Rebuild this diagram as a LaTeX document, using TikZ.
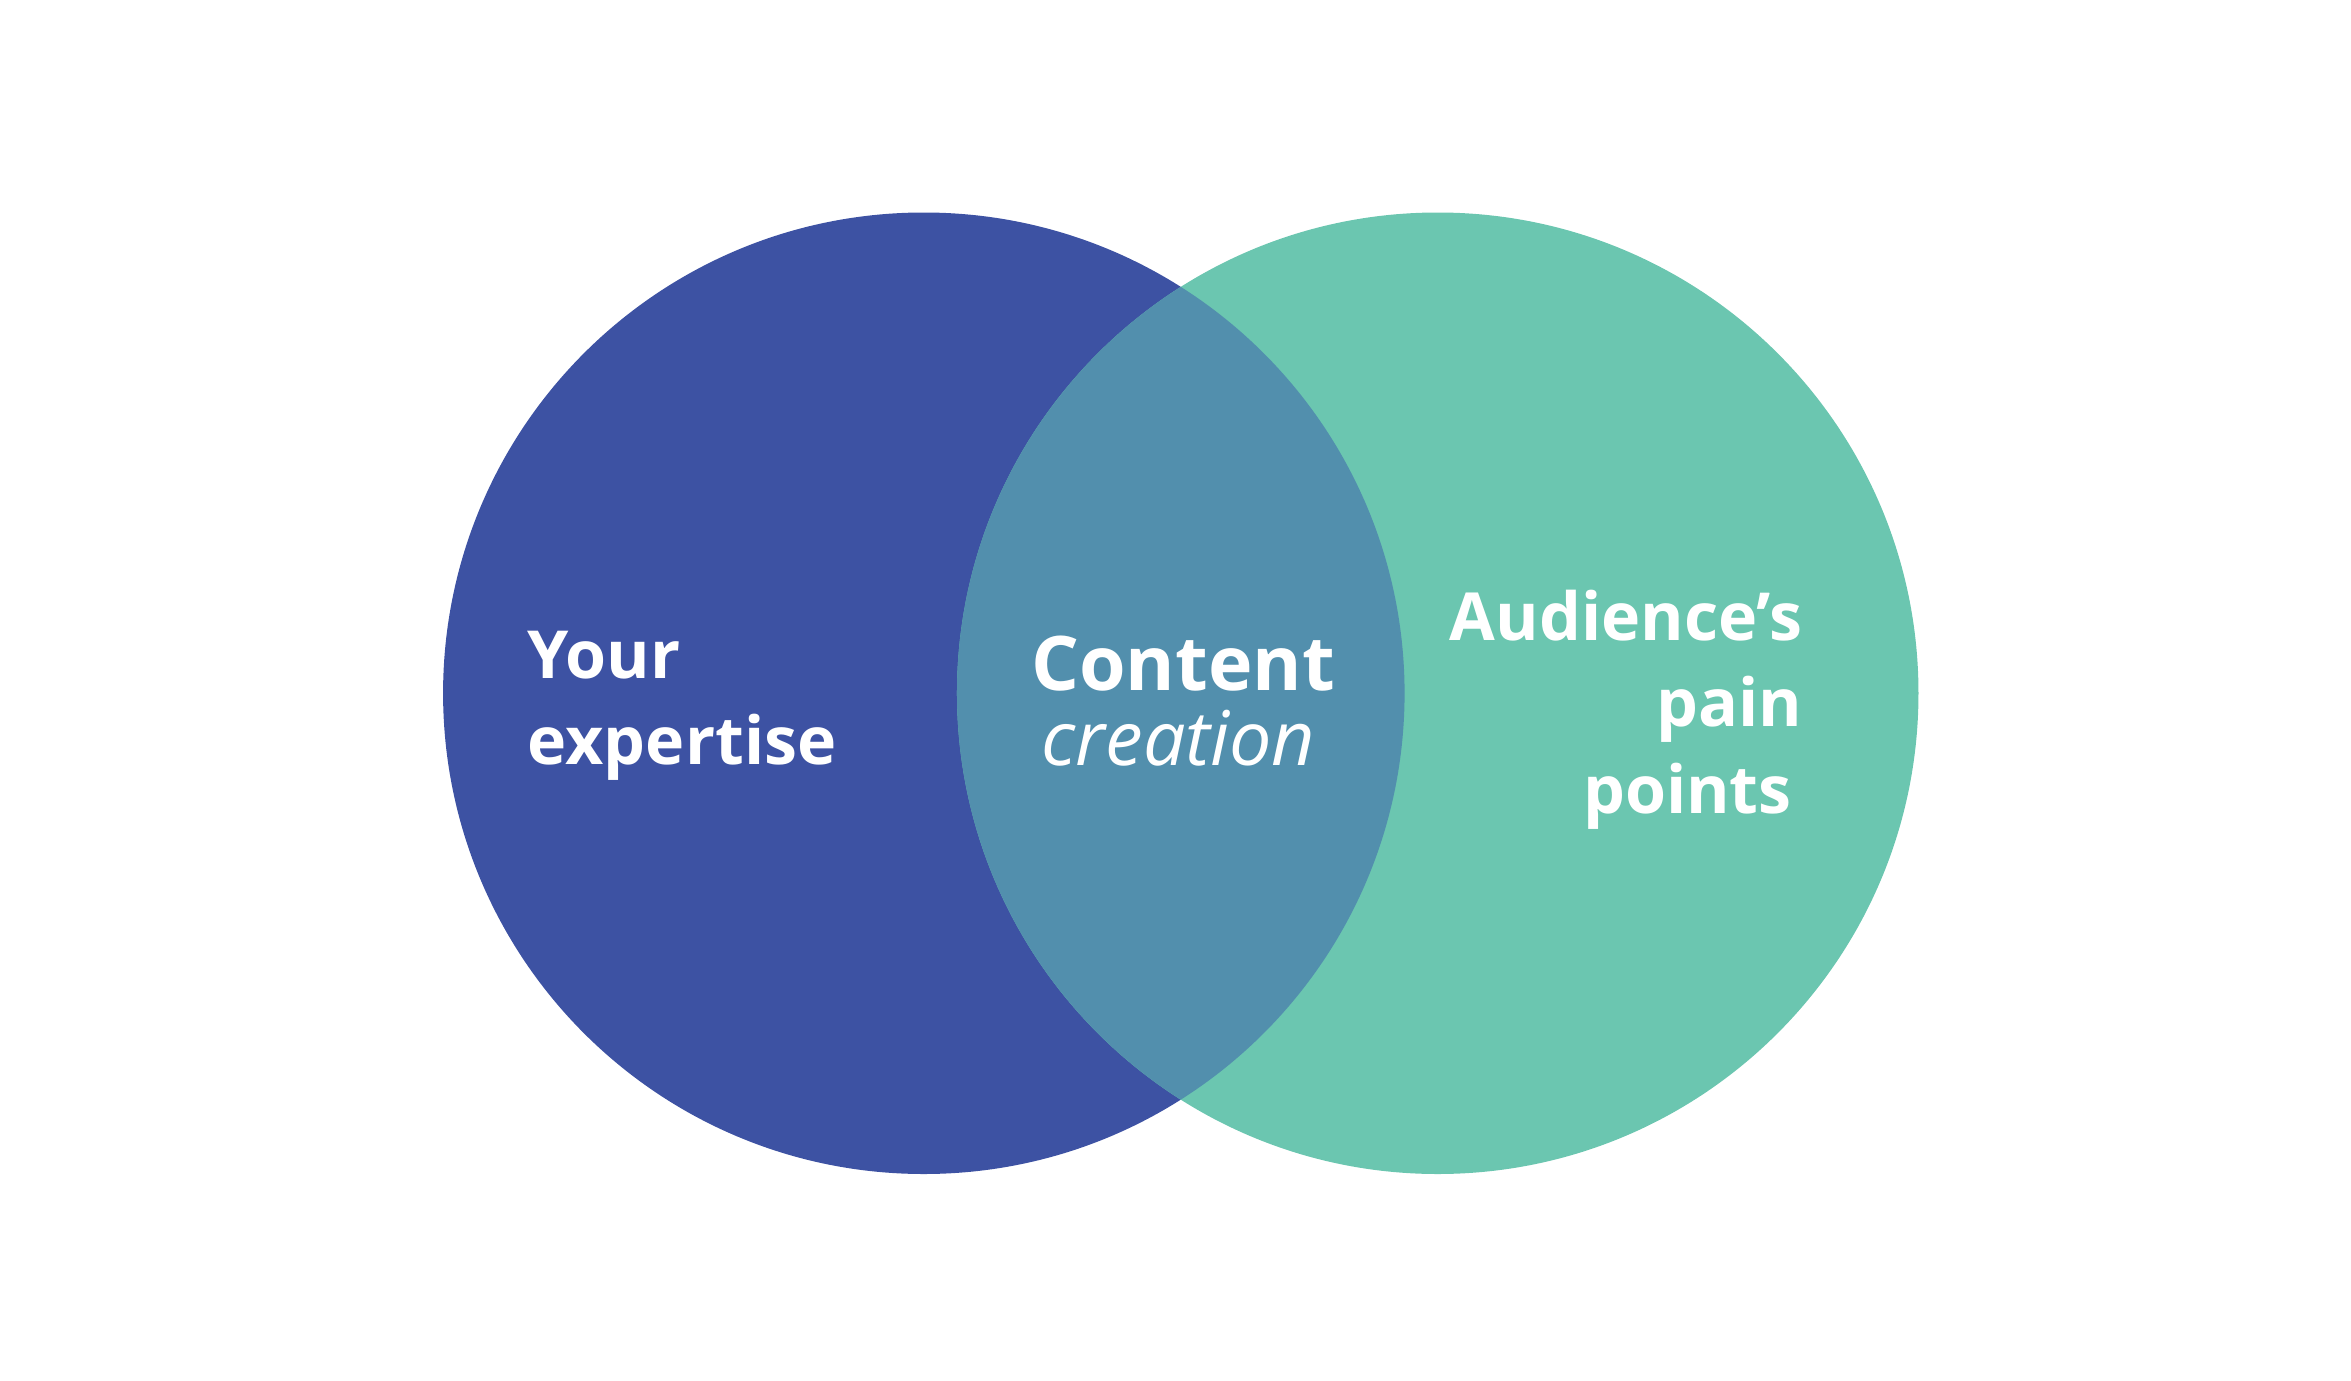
\documentclass[tikz,border=0pt]{standalone}
\usepackage{fontspec}
\setmainfont{Open Sans}
\definecolor{cA}{HTML}{3D52A3}
\definecolor{cB}{HTML}{6BC6B0}
\definecolor{cC}{HTML}{528FAD}
\begin{document}
\begin{tikzpicture}[x=1pt,y=-1pt,
  lbl/.style={text=white,font=\fontsize{44}{57}\selectfont\bfseries,inner sep=0pt}]
\useasboundingbox (0,0) rectangle (1560,916);
\fill[cA] (613,460) circle (319);
\fill[cB] (954,460) circle (319);
\begin{scope}
\clip (613,460) circle (319);
\fill[cC] (954,460) circle (319);
\end{scope}
\node[lbl,anchor=base west] (y1) at (350,450) {Your};
\node[lbl,anchor=base west] (y2) at (350,507) {expertise};
\node[lbl,anchor=base,font=\fontsize{50}{57}\selectfont\bfseries] (c1) at (785,458) {Content};
\node[lbl,anchor=base,font=\fontsize{50}{57}\selectfont\itshape] (c2) at (782,508) {creation};
\node[lbl,anchor=base east] (a1) at (1196,425) {Audience’s};
\node[lbl,anchor=base east] (a2) at (1196,482) {pain};
\node[lbl,anchor=base east] (a3) at (1189,540) {points};
\end{tikzpicture}
\end{document}
